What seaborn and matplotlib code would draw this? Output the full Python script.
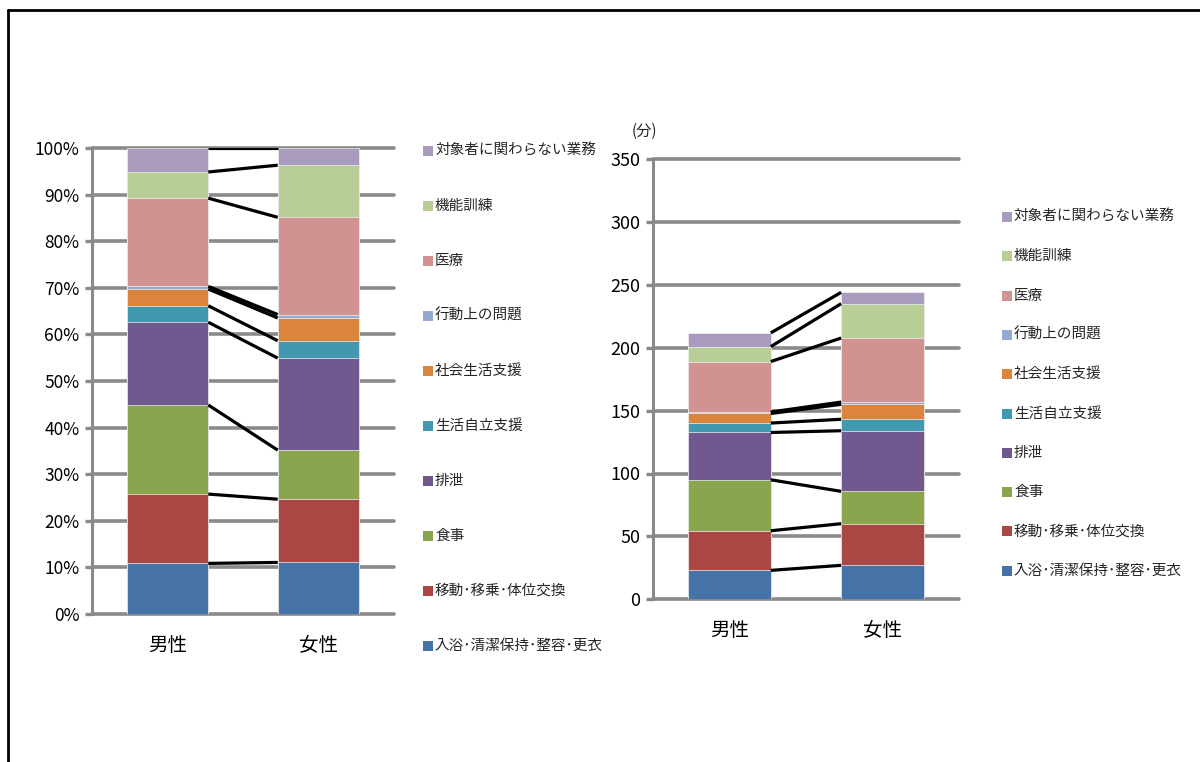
import numpy as np
import pandas as pd
import matplotlib
matplotlib.use("Agg")
import matplotlib.pyplot as plt
from matplotlib.patches import Rectangle
from matplotlib.lines import Line2D
from matplotlib.ticker import FuncFormatter
import seaborn as sns

sns.set_theme(style="white")
plt.rcParams["font.family"] = ["Noto Sans CJK JP", "DejaVu Sans"]

# Care time per resident (minutes), stacked bottom -> top
groups = ["男性", "女性"]
categories = [
    "入浴･清潔保持･整容･更衣",
    "移動･移乗･体位交換",
    "食事",
    "排泄",
    "生活自立支援",
    "社会生活支援",
    "行動上の問題",
    "医療",
    "機能訓練",
    "対象者に関わらない業務",
]
minutes_male = [23.0, 31.5, 40.5, 37.6, 7.5, 7.6, 1.2, 40.1, 11.9, 10.9]
minutes_female = [27.0, 33.1, 25.7, 48.2, 9.1, 11.9, 1.8, 50.9, 27.3, 9.0]
colors = ["#4572A7", "#AA4643", "#89A54E", "#71588F", "#4198AF",
          "#DB843D", "#93A9CF", "#D19392", "#B9CD96", "#A99BBD"]
pct_ticks = [0, 10, 20, 30, 40, 50, 60, 70, 80, 90, 100]
min_ticks = [0, 50, 100, 150, 200, 250, 300, 350]

# Long table with cumulative tops for both the share and the minutes view
rows = []
for g, vals in zip(groups, [minutes_male, minutes_female]):
    cum = np.cumsum(vals)
    total = cum[-1]
    for cat, v, c in zip(categories, vals, cum):
        rows.append({"group": g, "series": cat, "minutes": v,
                     "cum": c, "pct_cum": c / total * 100})
df = pd.DataFrame(rows)

W, H = 1200, 762
fig = plt.figure(figsize=(W / 100, H / 100), dpi=100)
fig.patch.set_facecolor("white")

GRID = "#8a8a8a"
BAR_W = 0.54


def px_axes(x0, y_top, x1, y_bot):
    return fig.add_axes([x0 / W, 1 - y_bot / H, (x1 - x0) / W, (y_bot - y_top) / H])


def draw_stack(ax, col, ymax, ticks, fmt, tick_size):
    # draw cumulative bars from the top series downwards so lower ones overlay
    for cat, colr in reversed(list(zip(categories, colors))):
        sub = df[df["series"] == cat]
        sns.barplot(data=sub, x="group", y=col, order=groups, color=colr,
                    saturation=1, width=BAR_W, errorbar=None, ax=ax,
                    edgecolor="#f2f2f2", linewidth=0.5, zorder=2)
    # series lines joining segment tops
    for cat in categories:
        sub = df[df["series"] == cat].set_index("group")
        ax.plot([0 + BAR_W / 2, 1 - BAR_W / 2],
                [sub.loc[groups[0], col], sub.loc[groups[1], col]],
                color="black", lw=2.3, solid_capstyle="butt", zorder=3)
    ax.set_xlim(-0.5, 1.5)
    ax.set_ylim(0, ymax)
    ax.set_yticks(ticks)
    ax.yaxis.set_major_formatter(FuncFormatter(fmt))
    ax.set_xlabel("")
    ax.set_ylabel("")
    ax.set_axisbelow(True)
    ax.yaxis.grid(True, color=GRID, lw=2.6)
    for ln in ax.get_ygridlines():
        ln.set_clip_on(False)
    for s in ["top", "right", "bottom"]:
        ax.spines[s].set_visible(False)
    ax.spines["left"].set_color(GRID)
    ax.spines["left"].set_linewidth(2.2)
    ax.tick_params(axis="y", left=True, length=5, width=2.4, color=GRID,
                   pad=4, labelsize=tick_size, labelcolor="black")
    ax.tick_params(axis="x", bottom=False, length=0, pad=15,
                   labelsize=14, labelcolor="black")
    ax.set_facecolor("none")


# left: composition (%)
ax1 = px_axes(92, 148, 394, 614)
draw_stack(ax1, "pct_cum", 100, pct_ticks, lambda v, p: f"{v:.0f}%", 12.5)

# right: minutes
ax2 = px_axes(653, 159, 959, 599.3)
draw_stack(ax2, "cum", 350, min_ticks, lambda v, p: f"{v:.0f}", 13)
fig.text(632 / W, 1 - 131 / H, "(分)", fontsize=11, va="center", ha="left")


def draw_key(x_sq, y_first, step, size=10):
    for i, (cat, colr) in enumerate(reversed(list(zip(categories, colors)))):
        yc = y_first + i * step
        fig.add_artist(Rectangle((x_sq / W, 1 - (yc + size / 2) / H),
                                 size / W, size / H, transform=fig.transFigure,
                                 facecolor=colr, edgecolor="none"))
        fig.text((x_sq + size + 2) / W, 1 - yc / H, cat, fontsize=10.5,
                 va="center", ha="left")


draw_key(423, 151, 55)
draw_key(1002, 217, 39.3)

# outer frame
fig.add_artist(Line2D([8 / W, 8 / W], [0, 1 - 9.5 / H], color="black", lw=2,
                      transform=fig.transFigure))
fig.add_artist(Line2D([8 / W, 1], [1 - 9.5 / H, 1 - 9.5 / H], color="black", lw=2,
                      transform=fig.transFigure))

fig.savefig("out.png", dpi=100, facecolor="white")
